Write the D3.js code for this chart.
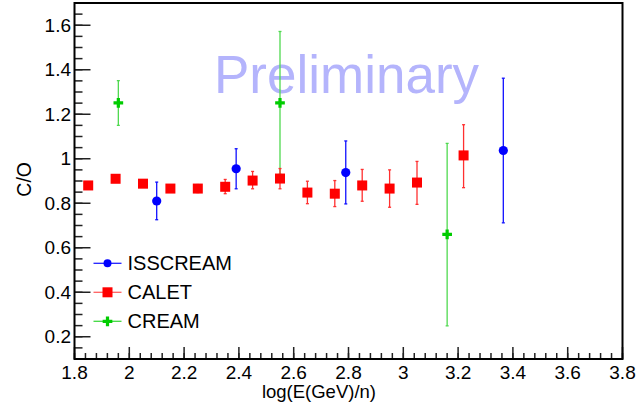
<!DOCTYPE html>
<html>
<head>
<meta charset="utf-8">
<script src="https://cdn.jsdelivr.net/npm/d3@7"></script>
<style>
  html, body { margin: 0; padding: 0; background: #fff; }
  svg text { font-family: "Liberation Sans", Arial, Helvetica, sans-serif; }
</style>
</head>
<body>
<div id="viz"></div>
<script>
// data: x = log10(E/n), y = C/O, lo/hi = bar ends
const calet = [
  { x: 1.85, y: 0.880, lo: 0.870, hi: 0.890 },
  { x: 1.95, y: 0.910, lo: 0.900, hi: 0.920 },
  { x: 2.05, y: 0.888, lo: 0.878, hi: 0.898 },
  { x: 2.15, y: 0.866, lo: 0.853, hi: 0.880 },
  { x: 2.25, y: 0.866, lo: 0.848, hi: 0.884 },
  { x: 2.35, y: 0.874, lo: 0.843, hi: 0.907 },
  { x: 2.45, y: 0.902, lo: 0.865, hi: 0.943 },
  { x: 2.55, y: 0.911, lo: 0.865, hi: 0.956 },
  { x: 2.65, y: 0.848, lo: 0.798, hi: 0.899 },
  { x: 2.75, y: 0.843, lo: 0.785, hi: 0.902 },
  { x: 2.85, y: 0.880, lo: 0.809, hi: 0.952 },
  { x: 2.95, y: 0.866, lo: 0.782, hi: 0.950 },
  { x: 3.05, y: 0.893, lo: 0.795, hi: 0.988 },
  { x: 3.22, y: 1.015, lo: 0.870, hi: 1.153 }
]

const isscream = [
  { x: 2.10, y: 0.810, lo: 0.726, hi: 0.895 },
  { x: 2.39, y: 0.955, lo: 0.865, hi: 1.045 },
  { x: 2.79, y: 0.938, lo: 0.797, hi: 1.080 },
  { x: 3.365, y: 1.037, lo: 0.712, hi: 1.362 }
]

const cream = [
  { x: 1.96, y: 1.251, lo: 1.150, hi: 1.351 },
  { x: 2.55, y: 1.251, lo: 0.930, hi: 1.572 },
  { x: 3.16, y: 0.660, lo: 0.249, hi: 1.069 }
]

const xTicks = [1.8, 2, 2.2, 2.4, 2.6, 2.8, 3, 3.2, 3.4, 3.6, 3.8]
const yTicks = [0.2, 0.4, 0.6, 0.8, 1, 1.2, 1.4, 1.6]
const legendNames = ["ISSCREAM", "CALET", "CREAM"]

document.addEventListener("DOMContentLoaded", () => {
    const width = 640
    const height = 408
    const margin = { left: 74.5, right: 17.5, top: 3, bottom: 49 }

    const svg = d3.select("#viz").append("svg")
        .attr("width", width)
        .attr("height", height)

    const x = d3.scaleLinear().domain([1.8, 3.8]).range([margin.left, width - margin.right])
    const y = d3.scaleLinear().domain([0.1, 1.7]).range([height - margin.bottom, margin.top])

    // watermark
    svg.append("text")
        .attr("x", 214)
        .attr("y", 92.5)
        .attr("font-size", 53)
        .attr("fill", "#b4b4fc")
        .text("Preliminary")

    // minor ticks
    const xMinor = d3.range(1.8, 3.801, 0.04)
    const yMinor = d3.range(0.1, 1.701, 0.05)

    const x0 = x(1.8), yb = y(0.1)
    svg.append("g").selectAll("line").data(xMinor).enter().append("line")
        .attr("x1", d => x(d)).attr("x2", d => x(d))
        .attr("y1", yb).attr("y2", yb - 6)
        .attr("stroke", "#222").attr("stroke-width", 1.5)
    svg.append("g").selectAll("line").data(xTicks).enter().append("line")
        .attr("x1", d => x(d)).attr("x2", d => x(d))
        .attr("y1", yb).attr("y2", yb - 12)
        .attr("stroke", "#222").attr("stroke-width", 1.5)
    svg.append("g").selectAll("line").data(yMinor).enter().append("line")
        .attr("x1", x0).attr("x2", x0 + 8)
        .attr("y1", d => y(d)).attr("y2", d => y(d))
        .attr("stroke", "#222").attr("stroke-width", 1.5)
    svg.append("g").selectAll("line").data(yTicks).enter().append("line")
        .attr("x1", x0).attr("x2", x0 + 16)
        .attr("y1", d => y(d)).attr("y2", d => y(d))
        .attr("stroke", "#222").attr("stroke-width", 1.5)

    // tick labels
    svg.append("g").selectAll("text").data(xTicks).enter().append("text")
        .attr("x", d => x(d))
        .attr("y", 379)
        .attr("text-anchor", "middle")
        .attr("font-size", 19)
        .text(d => d3.format("~g")(d))
    svg.append("g").selectAll("text").data(yTicks).enter().append("text")
        .attr("x", 71)
        .attr("y", d => y(d))
        .attr("dy", "0.35em")
        .attr("text-anchor", "end")
        .attr("font-size", 19)
        .text(d => d3.format("~g")(d))

    // axis titles
    svg.append("text")
        .attr("x", 376)
        .attr("y", 398)
        .attr("text-anchor", "end")
        .attr("font-size", 18.5)
        .text("log(E(GeV)/n)")
    svg.append("text")
        .attr("transform", "translate(31,162) rotate(-90)")
        .attr("text-anchor", "end")
        .attr("font-size", 19.5)
        .text("C/O")

    // error bars
    function errorBars(data, color) {
        const g = svg.append("g")
        g.selectAll("line.bar").data(data).enter().append("line")
            .attr("x1", d => x(d.x)).attr("x2", d => x(d.x))
            .attr("y1", d => y(d.lo)).attr("y2", d => y(d.hi))
            .attr("stroke", color).attr("stroke-width", 1.3)
        g.selectAll("line.capLo").data(data).enter().append("line")
            .attr("x1", d => x(d.x) - 1.5).attr("x2", d => x(d.x) + 1.5)
            .attr("y1", d => y(d.lo)).attr("y2", d => y(d.lo))
            .attr("stroke", color).attr("stroke-width", 1.3)
        g.selectAll("line.capHi").data(data).enter().append("line")
            .attr("x1", d => x(d.x) - 1.5).attr("x2", d => x(d.x) + 1.5)
            .attr("y1", d => y(d.hi)).attr("y2", d => y(d.hi))
            .attr("stroke", color).attr("stroke-width", 1.3)
    }

    errorBars(cream, "#4fd94f")
    errorBars(calet, "#ff3030")
    errorBars(isscream, "#1010ff")

    const cross = d3.symbol().type(d3.symbolCross).size(52)

    svg.append("g").selectAll("path").data(cream).enter().append("path")
        .attr("d", cross)
        .attr("transform", d => `translate(${x(d.x)},${y(d.y)})`)
        .attr("fill", "#00cc00")

    svg.append("g").selectAll("rect").data(calet).enter().append("rect")
        .attr("x", d => x(d.x) - 5).attr("y", d => y(d.y) - 5)
        .attr("width", 10).attr("height", 10)
        .attr("fill", "#ff0000")

    svg.append("g").selectAll("circle").data(isscream).enter().append("circle")
        .attr("cx", d => x(d.x)).attr("cy", d => y(d.y))
        .attr("r", 4.6)
        .attr("fill", "#0000ff")

    // legend
    const legendColors = ["#0000ff", "#ff0000", "#00cc00"]
    const lineColors = ["#2020ff", "#ff6060", "#40d840"]
    const legend = svg.append("g")
        .selectAll("g").data(legendNames).enter().append("g")
        .attr("transform", (d, i) => `translate(0,${263.3 + i * 29})`)
    legend.append("line")
        .attr("x1", 93.5).attr("x2", 121.5)
        .attr("stroke", (d, i) => lineColors[i]).attr("stroke-width", 1.3)
    legend.filter((d, i) => i === 0).append("circle")
        .attr("cx", 107.5).attr("r", 4).attr("fill", legendColors[0])
    legend.filter((d, i) => i === 1).append("rect")
        .attr("x", 102.5).attr("y", -5).attr("width", 10).attr("height", 10)
        .attr("fill", legendColors[1])
    legend.filter((d, i) => i === 2).append("path")
        .attr("d", cross).attr("transform", "translate(107.5,0)")
        .attr("fill", legendColors[2])
    legend.append("text")
        .attr("x", 127.5)
        .attr("dy", "0.35em")
        .attr("font-size", 20)
        .text(d => d)

    // frame
    svg.append("rect")
        .attr("x", x(1.8)).attr("y", y(1.7))
        .attr("width", x(3.8) - x(1.8)).attr("height", y(0.1) - y(1.7))
        .attr("fill", "none")
        .attr("stroke", "#000").attr("stroke-width", 2)
})
</script>
</body>
</html>
